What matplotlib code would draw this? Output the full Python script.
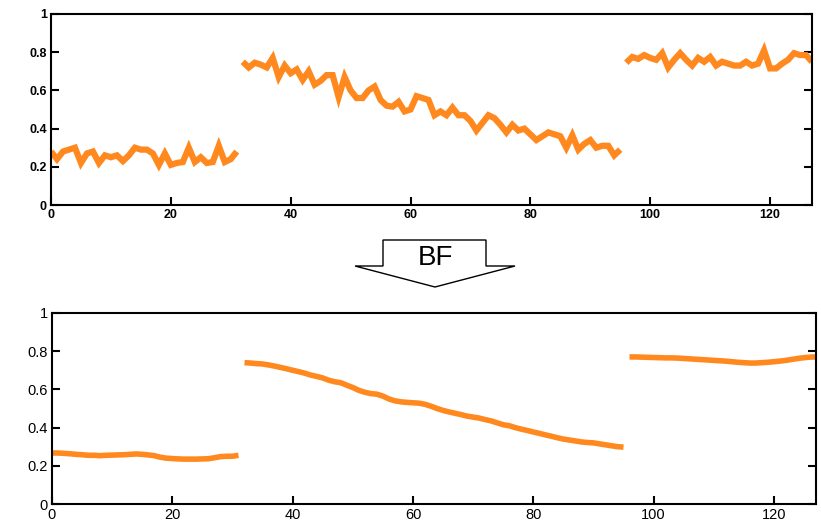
import matplotlib
matplotlib.use("Agg")
import matplotlib.pyplot as plt
from matplotlib.patches import Polygon
import numpy as np

# ---- data ----
noisy_seg1 = [0.28, 0.24, 0.28, 0.29, 0.30, 0.22, 0.27, 0.28, 0.22, 0.26,
              0.25, 0.26, 0.23, 0.26, 0.30, 0.29, 0.29, 0.27, 0.21, 0.27,
              0.21, 0.22, 0.225, 0.30, 0.225, 0.25, 0.22, 0.225, 0.31, 0.225,
              0.24, 0.28]
noisy_seg2 = [0.75, 0.72, 0.745, 0.735, 0.72, 0.77, 0.67, 0.73, 0.69, 0.71,
              0.655, 0.70, 0.63, 0.65, 0.68, 0.68, 0.565, 0.67, 0.60, 0.56,
              0.56, 0.60, 0.62, 0.55, 0.52, 0.515, 0.54, 0.49, 0.50, 0.57,
              0.56, 0.55, 0.47, 0.49, 0.47, 0.51, 0.47, 0.47, 0.44, 0.39,
              0.43, 0.47, 0.455, 0.42, 0.38, 0.42, 0.39, 0.40, 0.37, 0.34,
              0.36, 0.38, 0.37, 0.36, 0.30, 0.365, 0.29, 0.32, 0.34, 0.30,
              0.31, 0.31, 0.26, 0.29]
noisy_seg3 = [0.745, 0.775, 0.765, 0.785, 0.77, 0.76, 0.795, 0.72, 0.76, 0.795,
              0.76, 0.73, 0.77, 0.75, 0.775, 0.73, 0.75, 0.74, 0.73, 0.73,
              0.75, 0.73, 0.74, 0.81, 0.715, 0.715, 0.74, 0.76, 0.795, 0.785,
              0.785, 0.75]

smooth_seg1 = [0.267, 0.267, 0.265, 0.263, 0.26, 0.258, 0.255, 0.255, 0.253, 0.255,
               0.256, 0.257, 0.258, 0.26, 0.262, 0.26, 0.257, 0.253, 0.245, 0.24,
               0.238, 0.236, 0.235, 0.235, 0.235, 0.236, 0.237, 0.242, 0.248, 0.25,
               0.25, 0.255]
smooth_seg2 = [0.74, 0.738, 0.735, 0.733, 0.728, 0.722, 0.715, 0.708, 0.70, 0.693,
               0.685, 0.675, 0.668, 0.66, 0.648, 0.64, 0.635, 0.622, 0.61, 0.595,
               0.585, 0.578, 0.575, 0.565, 0.55, 0.54, 0.535, 0.532, 0.53, 0.528,
               0.522, 0.512, 0.50, 0.49, 0.482, 0.475, 0.468, 0.46, 0.455, 0.45,
               0.442, 0.435, 0.425, 0.415, 0.41, 0.40, 0.392, 0.385, 0.377, 0.37,
               0.362, 0.355, 0.347, 0.34, 0.335, 0.33, 0.325, 0.322, 0.32, 0.315,
               0.31, 0.305, 0.30, 0.298]
smooth_seg3 = [0.77, 0.77, 0.769, 0.768, 0.767, 0.766, 0.765, 0.765, 0.764, 0.762,
               0.76, 0.758, 0.756, 0.754, 0.752, 0.75, 0.748, 0.745, 0.742, 0.74,
               0.738, 0.738, 0.74, 0.742, 0.745, 0.748, 0.752, 0.757, 0.762, 0.766,
               0.769, 0.77]

seg_starts = [0, 32, 96]
x_ticks = [0, 20, 40, 60, 80, 100, 120]
y_ticks = [0, 0.2, 0.4, 0.6, 0.8, 1]
y_ticklabels = ["0", "0.2", "0.4", "0.6", "0.8", "1"]
arrow_label = "BF"

LINE_COLOR = "#FF8312"

plt.rcParams['font.family'] = ['Liberation Sans', 'DejaVu Sans']

W, H = 821, 530
fig = plt.figure(figsize=(W / 100, H / 100), dpi=100)

def px_rect(l, r, t, b):
    return [l / W, 1 - b / H, (r - l) / W, (b - t) / H]

ax_top = fig.add_axes(px_rect(51, 812, 14, 205))
ax_bot = fig.add_axes(px_rect(52, 816, 313, 504))

def draw(ax, segs, lw, fs, fw):
    for start, seg in zip(seg_starts, segs):
        xs = np.arange(start, start + len(seg))
        ax.plot(xs, seg, color=LINE_COLOR, lw=lw, solid_capstyle='butt',
                solid_joinstyle='miter', alpha=0.95)
    ax.set_xlim(0, 127)
    ax.set_ylim(0, 1)
    ax.set_xticks(x_ticks)
    ax.set_xticklabels([str(t) for t in x_ticks], fontsize=fs, fontweight=fw)
    ax.set_yticks(y_ticks)
    ax.set_yticklabels(y_ticklabels, fontsize=fs, fontweight=fw)
    ax.tick_params(axis='both', direction='in', length=6, width=1.5,
                   pad=3, colors='black')
    ax.tick_params(axis='y', right=True, left=True)
    ax.tick_params(axis='x', top=False)
    for s in ax.spines.values():
        s.set_linewidth(1.5)
        s.set_color('black')

draw(ax_top, [noisy_seg1, noisy_seg2, noisy_seg3], 4.5, 9, 'bold')
draw(ax_bot, [smooth_seg1, smooth_seg2, smooth_seg3], 4.0, 10.5, 'normal')

# block arrow between panels
arrow_px = [(383, 240), (486, 240), (486, 266), (515, 266), (435, 287),
            (355, 266), (383, 266)]
arrow_pts = [(x / W, 1 - y / H) for x, y in arrow_px]
fig.patches.append(Polygon(arrow_pts, closed=True, transform=fig.transFigure,
                           facecolor='white', edgecolor='black', lw=1.0))
fig.text(435 / W, 1 - 258 / H, arrow_label, ha='center', va='center',
         fontsize=20, family=['Liberation Sans', 'DejaVu Sans'])

fig.savefig("out.png", dpi=100)
